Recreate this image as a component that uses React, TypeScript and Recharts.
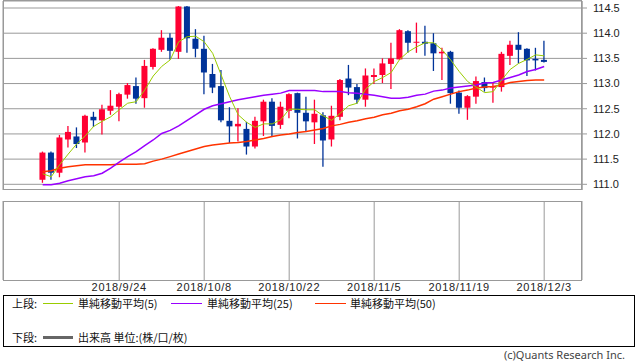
import React from 'react';
import { ComposedChart, Bar, Line, XAxis, YAxis, CartesianGrid } from 'recharts';

const dates = [
  '2018/9/11','2018/9/12','2018/9/13','2018/9/14','2018/9/17','2018/9/18','2018/9/19','2018/9/20','2018/9/21','2018/9/24',
  '2018/9/25','2018/9/26','2018/9/27','2018/9/28','2018/10/1','2018/10/2','2018/10/3','2018/10/4','2018/10/5','2018/10/8',
  '2018/10/9','2018/10/10','2018/10/11','2018/10/12','2018/10/15','2018/10/16','2018/10/17','2018/10/18','2018/10/19','2018/10/22',
  '2018/10/23','2018/10/24','2018/10/25','2018/10/26','2018/10/29','2018/10/30','2018/10/31','2018/11/1','2018/11/2','2018/11/5',
  '2018/11/6','2018/11/7','2018/11/8','2018/11/9','2018/11/12','2018/11/13','2018/11/14','2018/11/15','2018/11/16','2018/11/19',
  '2018/11/20','2018/11/21','2018/11/22','2018/11/23','2018/11/26','2018/11/27','2018/11/28','2018/11/29','2018/11/30','2018/12/3',
];

const opens = [
  111.09,111.63,111.23,111.89,111.95,111.83,112.34,112.27,112.46,112.54,
  112.78,112.95,112.71,113.33,113.67,113.91,113.63,114.53,113.89,113.69,
  113.19,112.95,112.26,112.15,112.10,111.75,112.25,112.64,112.18,112.46,
  112.81,112.42,112.23,112.37,111.89,112.34,113.10,112.93,112.68,113.13,
  113.17,113.39,113.48,114.04,113.81,113.83,113.80,113.60,113.63,112.82,
  112.52,112.74,113.03,112.92,112.93,113.55,113.77,113.69,113.49,113.47,
];
const highs = [
  111.65,111.65,111.98,112.16,112.13,112.38,112.44,112.58,112.87,112.82,
  113.01,113.12,113.47,113.70,114.06,114.00,114.54,114.54,114.08,113.95,
  113.39,113.27,112.53,112.51,112.24,112.34,112.68,112.71,112.64,112.81,
  112.82,112.74,112.68,112.43,112.56,113.09,113.37,112.99,113.30,113.30,
  113.50,113.81,114.08,114.06,114.21,114.15,114.00,113.71,113.65,112.86,
  112.77,113.14,113.12,113.01,113.63,113.85,114.02,113.70,113.71,113.85,
];
const lows = [
  111.03,111.09,111.14,111.73,111.72,111.63,112.14,111.99,112.38,112.25,
  112.70,112.60,112.52,113.28,113.63,113.48,113.49,113.61,113.52,112.79,
  112.81,112.23,111.82,111.85,111.59,111.71,111.96,111.95,112.10,112.31,
  111.91,112.05,111.80,111.35,111.75,112.27,112.77,112.60,112.54,112.99,
  113.01,112.89,113.47,113.61,113.61,113.55,113.25,113.07,112.60,112.40,
  112.28,112.60,112.84,112.62,112.84,113.37,113.40,113.15,113.26,113.42,
];
const closes = [
  111.63,111.23,111.93,112.04,111.80,112.36,112.27,112.49,112.56,112.79,
  112.97,112.70,113.35,113.69,113.91,113.65,114.53,113.90,113.69,113.22,
  112.92,112.27,112.15,112.20,111.75,112.26,112.64,112.16,112.54,112.79,
  112.42,112.25,112.40,111.87,112.36,113.07,112.92,112.68,113.16,113.17,
  113.40,113.50,114.06,113.81,113.83,113.79,113.60,113.63,112.81,112.52,
  112.75,113.05,112.91,112.95,113.59,113.77,113.67,113.46,113.46,113.43,
];
const ma5 = [
  111.21,111.15,111.39,111.60,111.80,111.96,112.15,112.25,112.34,112.48,
  112.61,112.64,112.87,113.15,113.34,113.47,113.83,113.93,113.94,113.83,
  113.60,113.17,112.74,112.38,112.23,112.13,112.20,112.20,112.28,112.49,
  112.49,112.48,112.48,112.36,112.27,112.41,112.56,112.61,112.89,113.04,
  113.12,113.22,113.48,113.63,113.73,113.81,113.81,113.67,113.47,113.24,
  113.04,112.93,112.82,112.84,113.07,113.28,113.40,113.48,113.57,113.55,
];
const ma25 = [
  110.99,110.99,111.02,111.07,111.11,111.15,111.17,111.22,111.32,111.44,
  111.55,111.65,111.77,111.88,112.01,112.07,112.16,112.27,112.38,112.49,
  112.56,112.60,112.64,112.68,112.71,112.74,112.77,112.79,112.81,112.86,
  112.86,112.86,112.86,112.84,112.84,112.84,112.82,112.81,112.79,112.77,
  112.74,112.71,112.71,112.73,112.77,112.79,112.85,112.87,112.91,112.93,
  112.95,112.97,113.01,113.02,113.07,113.12,113.17,113.24,113.28,113.34,
];
const ma50 = [
  111.25,111.27,111.32,111.35,111.37,111.39,111.39,111.39,111.39,111.40,
  111.40,111.40,111.41,111.46,111.50,111.55,111.60,111.65,111.70,111.75,
  111.78,111.80,111.82,111.83,111.85,111.88,111.91,111.95,111.98,112.00,
  112.03,112.05,112.08,112.11,112.16,112.19,112.23,112.26,112.30,112.33,
  112.38,112.41,112.46,112.49,112.54,112.60,112.69,112.74,112.79,112.84,
  112.87,112.91,112.93,112.94,112.97,113.02,113.04,113.06,113.07,113.07,
];

const tickDates = ['2018/9/24', '2018/10/8', '2018/10/22', '2018/11/5', '2018/11/19', '2018/12/3'];
const priceTicks = [111.0, 111.5, 112.0, 112.5, 113.0, 113.5, 114.0, 114.5];

const data = dates.map((date, idx) => ({
  date,
  idx,
  open: opens[idx],
  high: highs[idx],
  low: lows[idx],
  close: closes[idx],
  ma5: ma5[idx],
  ma25: ma25[idx],
  ma50: ma50[idx],
}));

const xTicks = tickDates.map((d) => dates.indexOf(d));
const X_DOMAIN: [number, number] = [-4.67, 63.45];
const Y_DOMAIN: [number, number] = [110.887, 114.639];

const RED = '#ff0033';
const BLUE = '#003399';
const C_MA5 = '#99cc00';
const C_MA25 = '#9900ff';
const C_MA50 = '#ff3300';
const GRID = '#999999';

const Candle = (props: any) => {
  const { x, y, width, height, payload } = props;
  if (!payload || x == null) return null;
  const { open, close, high, low } = payload;
  const top = Math.min(y, y + height);
  const h = Math.abs(height);
  const k = high - low > 0 ? h / (high - low) : 0;
  const cx = x + width / 2;
  const yo = top + (high - open) * k;
  const yc = top + (high - close) * k;
  const color = close >= open ? RED : BLUE;
  const bTop = Math.min(yo, yc);
  const bH = Math.max(1, Math.abs(yo - yc));
  return (
    <g>
      <line x1={cx} x2={cx} y1={top} y2={top + h} stroke={color} strokeWidth={1.3} />
      <rect x={x} y={bTop} width={width} height={bH} fill={color} />
    </g>
  );
};

const DateTick = (props: any) => {
  const { x, y, payload } = props;
  return (
    <text
      x={x}
      y={y}
      dy="0.71em"
      textAnchor="middle"
      fill="#222"
      fontSize={11}
      fontFamily="'Liberation Sans', Arial, sans-serif"
      letterSpacing={0.7}
    >
      {dates[payload.value]}
    </text>
  );
};

const abs = (l: number, t: number, w: number, h: number): React.CSSProperties => ({
  position: 'absolute',
  left: l,
  top: t,
  width: w,
  height: h,
});

const legendText: React.CSSProperties = {
  position: 'absolute',
  fontSize: 11,
  lineHeight: '14px',
  height: 14,
  color: '#111',
  fontFamily: "'Noto Sans CJK JP', sans-serif",
  whiteSpace: 'nowrap',
};

export default function App() {
  return (
    <div style={{ position: 'absolute', left: 0, top: 0, width: 638, height: 362, background: '#fff', overflow: 'hidden' }}>
      {/* upper panel */}
      <div style={abs(0, 0, 638, 190)}>
        <ComposedChart width={638} height={190} data={data} margin={{ top: 1, right: 0, bottom: 0, left: 3 }}>
          <CartesianGrid stroke={GRID} strokeWidth={1} />
          <XAxis
            dataKey="idx"
            type="number"
            domain={X_DOMAIN}
            ticks={xTicks}
            allowDataOverflow
            tick={false}
            tickLine={false}
            axisLine={false}
            height={0}
          />
          <YAxis
            orientation="right"
            width={56}
            type="number"
            domain={Y_DOMAIN}
            ticks={priceTicks}
            allowDataOverflow
            interval={0}
            tickFormatter={(v: number) => v.toFixed(1)}
            tickSize={5}
            tickMargin={6}
            tickLine={{ stroke: GRID }}
            axisLine={{ stroke: GRID }}
            tick={{ fill: '#222', fontSize: 11, fontFamily: "'Liberation Sans', Arial, sans-serif" }}
          />
          <Bar
            dataKey={(d: any) => [d.low, d.high]}
            barSize={6}
            shape={<Candle />}
            isAnimationActive={false}
          />
          <Line dataKey="ma50" type="linear" stroke={C_MA50} strokeWidth={1.5} dot={false} activeDot={false} isAnimationActive={false} />
          <Line dataKey="ma25" type="linear" stroke={C_MA25} strokeWidth={1.5} dot={false} activeDot={false} isAnimationActive={false} />
          <Line dataKey="ma5" type="linear" stroke={C_MA5} strokeWidth={1} dot={false} activeDot={false} isAnimationActive={false} />
        </ComposedChart>
      </div>
      <div style={{ ...abs(3, 0, 579, 190), border: `1px solid ${GRID}`, boxSizing: 'border-box', pointerEvents: 'none' }} />

      {/* lower panel */}
      <div style={abs(0, 200, 638, 100)}>
        <ComposedChart width={638} height={100} data={data} margin={{ top: 1, right: 56, bottom: 0, left: 3 }}>
          <CartesianGrid stroke={GRID} horizontal={false} />
          <XAxis
            dataKey="idx"
            type="number"
            domain={X_DOMAIN}
            ticks={xTicks}
            allowDataOverflow
            interval={0}
            height={20}
            tickSize={0}
            tickMargin={3}
            tickLine={false}
            axisLine={false}
            tick={<DateTick />}
          />
          <YAxis hide domain={[0, 1]} />
        </ComposedChart>
      </div>
      <div style={{ ...abs(3, 201, 579, 80), border: `1px solid ${GRID}`, boxSizing: 'border-box', pointerEvents: 'none' }} />

      {/* legend */}
      <div style={{ ...abs(3, 295, 632, 52), border: '1px solid #000', boxSizing: 'border-box' }} />
      <div style={{ ...legendText, left: 12, top: 296 }}>上段:</div>
      <div style={{ ...abs(43, 303, 30, 1), background: C_MA5 }} />
      <div style={{ ...legendText, left: 78, top: 296 }}>単純移動平均(5)</div>
      <div style={{ ...abs(171, 303, 31, 1), background: C_MA25 }} />
      <div style={{ ...legendText, left: 207, top: 296 }}>単純移動平均(25)</div>
      <div style={{ ...abs(315, 303, 31, 1), background: C_MA50 }} />
      <div style={{ ...legendText, left: 350, top: 296 }}>単純移動平均(50)</div>
      <div style={{ ...legendText, left: 12, top: 330 }}>下段:</div>
      <div style={{ ...abs(43, 336, 30, 3), background: '#666' }} />
      <div style={{ ...legendText, left: 78, top: 330 }}>出来高 単位:(株/口/枚)</div>

      <div
        style={{
          position: 'absolute',
          left: 0,
          top: 348,
          width: 625,
          height: 14,
          textAlign: 'right',
          fontSize: 11,
          lineHeight: '14px',
          color: '#444',
          fontFamily: "'Noto Sans', sans-serif",
          whiteSpace: 'nowrap',
        }}
      >
        (c)Quants Research Inc.
      </div>
    </div>
  );
}
